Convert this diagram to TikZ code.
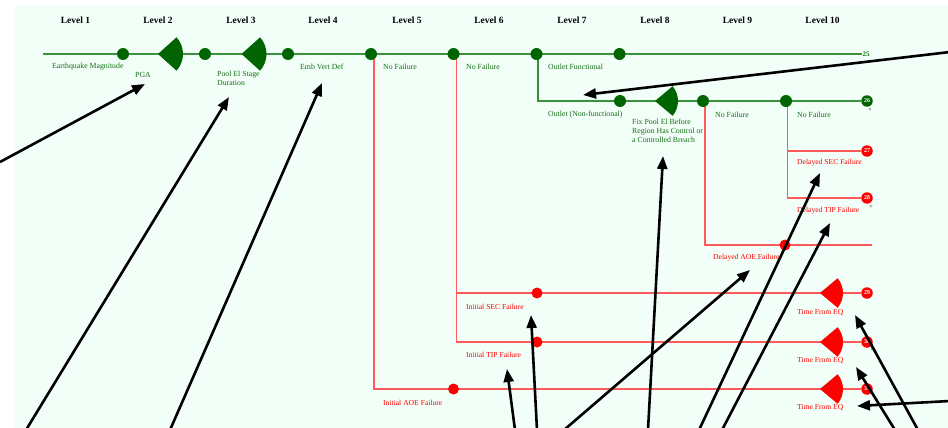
\documentclass[tikz,border=0pt]{standalone}
\usepackage{fontspec}
\setmainfont{Liberation Serif}
\usetikzlibrary{arrows.meta}
\definecolor{bgmint}{RGB}{242,255,248}
\definecolor{dgreen}{RGB}{0,100,0}
\definecolor{lgreen}{RGB}{60,145,60}
\definecolor{tgreen}{RGB}{20,110,20}
\definecolor{lred}{RGB}{255,90,90}
\definecolor{dred}{RGB}{255,0,0}
\pgfdeclarelayer{back}
\pgfsetlayers{back,main}
\tikzset{
  gl/.style={draw=lgreen, line width=1.1pt},
  rl/.style={draw=lred, line width=1.1pt},
  gdot/.style={circle, fill=dgreen, inner sep=0pt, minimum size=12pt},
  rdot/.style={circle, fill=dred, inner sep=0pt, minimum size=11pt},
  gend/.style={circle, fill=dgreen, inner sep=0pt, minimum size=11.5pt, text=white, font=\bfseries\fontsize{6}{6}\selectfont},
  rend/.style={circle, fill=dred, inner sep=0pt, minimum size=11.5pt, text=white, font=\bfseries\fontsize{6}{6}\selectfont},
  glab/.style={anchor=west, inner sep=0pt, text=tgreen, font=\fontsize{7.8}{9}\selectfont, align=left},
  rlab/.style={anchor=west, inner sep=0pt, text=dred, font=\fontsize{7.6}{9}\selectfont, align=left},
  hdr/.style={inner sep=0pt, font=\bfseries\fontsize{9.5}{10}\selectfont},
  ann/.style={line width=2.6pt, -{Triangle[length=13pt,width=10pt]}},
  plusmark/.style={inner sep=0pt, font=\fontsize{6}{6}\selectfont},
  gfan/.style={fill=dgreen},
  rfan/.style={fill=dred}
}
\begin{document}
\begin{tikzpicture}[x=1pt,y=-1pt]
\useasboundingbox (0,0) rectangle (948,428);
\begin{pgfonlayer}{back}
\fill[bgmint] (15,5) rectangle (948,428);
\end{pgfonlayer}

% headers
\node[hdr] (h1) at (75.5,20) {Level 1};
\node[hdr] (h2) at (158,20) {Level 2};
\node[hdr] (h3) at (241,20) {Level 3};
\node[hdr] (h4) at (323,20) {Level 4};
\node[hdr] (h5) at (407,20) {Level 5};
\node[hdr] (h6) at (489,20) {Level 6};
\node[hdr] (h7) at (572,20) {Level 7};
\node[hdr] (h8) at (655,20) {Level 8};
\node[hdr] (h9) at (737.5,20) {Level 9};
\node[hdr] (h10) at (822.5,20) {Level 10};

% top line nodes
\coordinate (start) at (43,54);
\node[gdot] (c1) at (123,54) {};
\fill[gfan] (158,54) -- ++(42:25) arc[start angle=42,end angle=-42,radius=25] -- cycle;
\node[gdot] (c2) at (205,54) {};
\fill[gfan] (241.5,54) -- ++(42:25) arc[start angle=42,end angle=-42,radius=25] -- cycle;
\node[gdot] (c3) at (288,54) {};
\node[gdot] (c4) at (371,54) {};
\node[gdot] (c5) at (453.5,54) {};
\node[gdot] (c6) at (536.5,54) {};
\node[gdot] (c7) at (619.5,54) {};
\node[inner sep=0.5pt, text=tgreen, font=\bfseries\fontsize{7}{7}\selectfont] (e25) at (866,54) {25};

% second green line
\node[gdot] (c8) at (620,101) {};
\fill[gfan] (655,101) -- ++(40:23) arc[start angle=40,end angle=-40,radius=23] -- cycle;
\node[gdot] (c9) at (703,101) {};
\node[gdot] (c10) at (786,101) {};
\node[gend] (e26) at (867,101) {26};

% red nodes
\node[rdot] (r1) at (453.5,389) {};
\node[rdot] (r2) at (537,293) {};
\node[rdot] (r3) at (537,342) {};
\node[rdot] (r4) at (785,245) {};
\coordinate (aoeend) at (872,245);
\node[rend] (e27) at (867,151) {27};
\node[rend] (e28) at (867,198) {28};
\node[rend] (e29) at (867,293) {29};
\node[rend] (e30) at (867,342) {30};
\node[rend] (e31) at (867,389) {31};
\fill[rfan] (820,293) -- ++(40:23) arc[start angle=40,end angle=-40,radius=23] -- cycle;
\fill[rfan] (820,342) -- ++(40:23) arc[start angle=40,end angle=-40,radius=23] -- cycle;
\fill[rfan] (820,389) -- ++(40:23) arc[start angle=40,end angle=-40,radius=23] -- cycle;

\node[plusmark] (p1) at (870,110) {+};
\node[plusmark] (p2) at (871,207) {+};
\node[plusmark] (p3) at (872,350) {+};

% lines
\begin{pgfonlayer}{back}
\draw[gl] (start) -- (e25.west);
\draw[gl] ([xshift=1.5pt]c6.center) |- (e26.west);
\draw[rl] ([xshift=3pt]c4.center) |- (e31.west);
\draw[rl] ([xshift=3pt]c5.center) |- (e29.west);
\draw[rl] ([xshift=3pt]c5.center) |- (e30.west);
\draw[rl] ([xshift=2pt]c9.center) |- (aoeend);
\draw[rl] ([xshift=1.5pt]c10.center) |- (e27.west);
\draw[rl] ([xshift=1.5pt]c10.center) |- (e28.west);
\end{pgfonlayer}

% labels
\node[glab] (lEQ) at (52,67) {Earthquake Magnitude};
\node[glab] (lPGA) at (135,74.5) {PGA};
\node[glab] (lPool) at (217,78.5) {Pool El Stage\\Duration};
\node[glab] (lEmb) at (300,67) {Emb Vert Def};
\node[glab] (lNF5) at (383,67) {No Failure};
\node[glab] (lNF6) at (466,67) {No Failure};
\node[glab] (lOF) at (548,67) {Outlet Functional};
\node[glab] (lONF) at (548,115) {Outlet (Non-functional)};
\node[glab] (lFix) at (632,131) {Fix Pool El Before\\Region Has Control or\\a Controlled Breach};
\node[glab] (lNF9) at (715,115) {No Failure};
\node[glab] (lNF10) at (797,115) {No Failure};
\node[rlab] (lDSEC) at (797,163) {Delayed SEC Failure};
\node[rlab] (lDTIP) at (797,211) {Delayed TIP Failure};
\node[rlab] (lDAOE) at (713,258) {Delayed AOE Failure};
\node[rlab] (lISEC) at (466,307) {Initial SEC Failure};
\node[rlab] (lITIP) at (466,355) {Initial TIP Failure};
\node[rlab] (lIAOE) at (383,403) {Initial AOE Failure};
\node[rlab] (lT1) at (797,313) {Time From EQ};
\node[rlab] (lT2) at (797,361) {Time From EQ};
\node[rlab] (lT3) at (797,408) {Time From EQ};

% annotation arrows
\coordinate (a1s) at (0,162);   \coordinate (a1t) at (145,84);
\coordinate (a2s) at (26,430);  \coordinate (a2t) at (229,97);
\coordinate (a3s) at (170,430); \coordinate (a3t) at (322,83);
\coordinate (a4s) at (950,52);  \coordinate (a4t) at (583,95);
\coordinate (a5s) at (648,430); \coordinate (a5t) at (663,156);
\coordinate (a6s) at (515,430); \coordinate (a6t) at (507,369);
\coordinate (a7s) at (537,430); \coordinate (a7t) at (531,315);
\coordinate (a8s) at (564,430); \coordinate (a8t) at (750,270);
\coordinate (a9s) at (699,430); \coordinate (a9t) at (820,173);
\coordinate (a10s) at (722,430); \coordinate (a10t) at (830,223);
\coordinate (a11s) at (918,430); \coordinate (a11t) at (855,315);
\coordinate (a12s) at (895,430); \coordinate (a12t) at (856,367);
\coordinate (a13s) at (950,401); \coordinate (a13t) at (857,406);
\foreach \i in {1,...,13} {\draw[ann] (a\i s) -- (a\i t);}
\end{tikzpicture}
\end{document}
